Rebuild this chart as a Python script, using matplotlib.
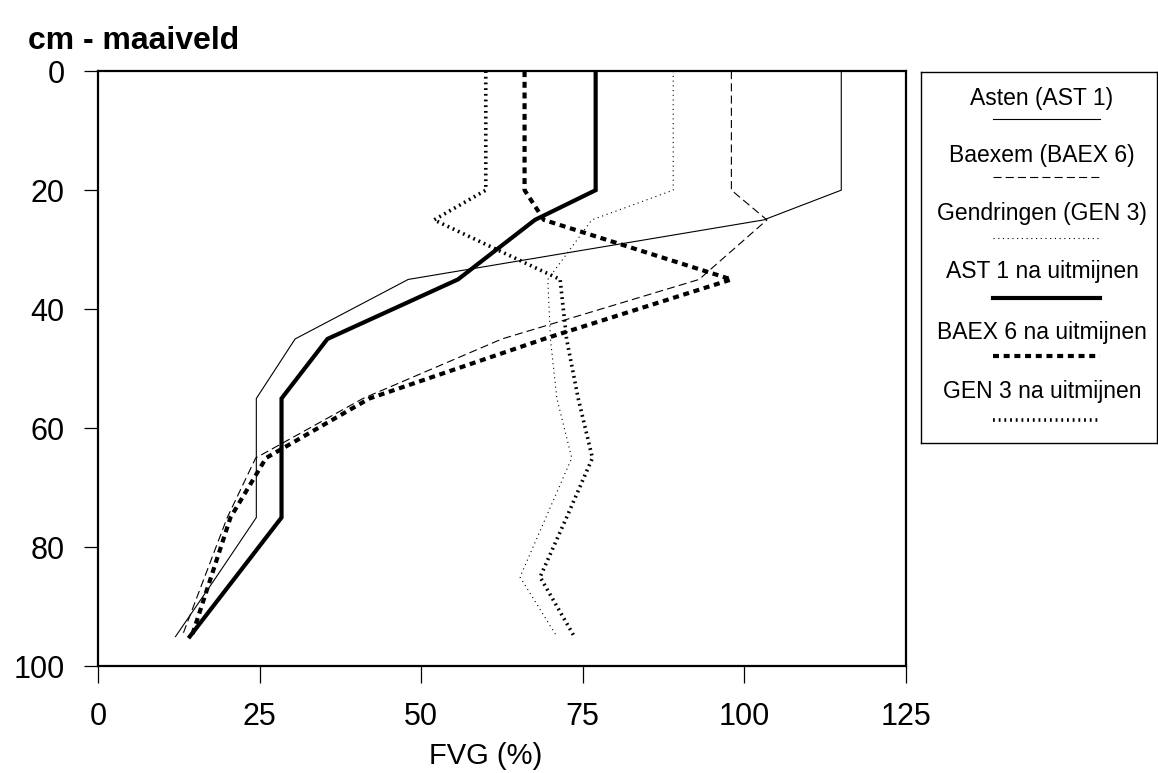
import matplotlib
matplotlib.use('Agg')
import matplotlib.pyplot as plt

"""
Bodemprofiel: FVG (%) per diepte voor drie percelen, voor en na uitmijnen.
"""

plt.rcParams['font.family'] = ['Liberation Sans', 'DejaVu Sans']
plt.rcParams['lines.scale_dashes'] = False

# diepte in cm onder maaiveld
depth = [0, 20, 25, 35, 45, 55, 65, 75, 85, 95]

asten = [115, 115, 103, 48, 30.5, 24.5, 24.5, 24.5, 18.3, 12]
baexem = [98, 98, 103.5, 93, 62.5, 41, 24.4, 20, 16.5, 13]
gendringen = [89, 89, 76.4, 69.6, 70, 71, 73.3, 69.3, 65.3, 71]
ast1_na = [77, 77, 67.6, 55.7, 35.5, 28.4, 28.4, 28.4, 21.3, 14.2]
baex6_na = [66, 66, 69, 98, 69, 42, 26, 20.5, 17.5, 14.5]
gen3_na = [60, 60, 52, 71.5, 72.5, 74.3, 76.5, 72.5, 68.4, 73.7]

series = [asten, baexem, gendringen, ast1_na, baex6_na, gen3_na]
labels = ['Asten (AST 1)', 'Baexem (BAEX 6)', 'Gendringen (GEN 3)',
          'AST 1 na uitmijnen', 'BAEX 6 na uitmijnen', 'GEN 3 na uitmijnen']

styles = [
    dict(lw=0.8, ls='-'),
    dict(lw=0.8, ls=(0, (5.8, 3.0))),
    dict(lw=0.8, ls=(0, (0.8, 2.6))),
    dict(lw=3.0, ls='-'),
    dict(lw=3.0, ls=(0, (4.3, 3.4))),
    dict(lw=2.6, ls=(0, (1.3, 2.8))),
]


def main():
    fig = plt.figure(figsize=(11.58, 7.73), dpi=100)
    ax = fig.add_axes([0.0846, 0.138, 0.6977, 0.770])

    for vals, st in zip(series, styles):
        ax.plot(vals, depth, color='black', solid_joinstyle='miter',
                dash_capstyle='butt', **st)

    ax.set_xlim(0, 125)
    ax.set_ylim(100, 0)
    ax.set_xticks([0, 25, 50, 75, 100, 125])
    ax.set_yticks([0, 20, 40, 60, 80, 100])
    ax.tick_params(axis='x', direction='out', length=12, width=0.9,
                   labelsize=22, pad=14)
    ax.tick_params(axis='y', direction='out', length=10, width=0.9,
                   labelsize=22, pad=14)
    for sp in ax.spines.values():
        sp.set_linewidth(1.6)
    ax.set_xlabel('FVG (%)', fontsize=21, labelpad=7, x=0.48)
    fig.text(0.024, 0.937, 'cm - maaiveld', fontsize=23, fontweight='bold',
             ha='left', va='baseline')

    # legenda als apart kader rechts
    lax = fig.add_axes([921 / 1158, 1 - 443 / 773, 236 / 1158, 371 / 773])
    lax.set_xlim(921, 1157)
    lax.set_ylim(443, 72)
    lax.set_xticks([])
    lax.set_yticks([])
    for sp in lax.spines.values():
        sp.set_linewidth(1.0)
    text_y = [99, 156, 214, 272, 333, 392]
    line_y = [119, 177, 238, 298, 356, 420]
    for lab, st, ty, ly in zip(labels, styles, text_y, line_y):
        lax.text(1042, ty, lab, fontsize=16.5, ha='center', va='center')
        lax.plot([993, 1100], [ly, ly], color='black',
                 dash_capstyle='butt', **st)

    fig.savefig('out.png', dpi=100)


if __name__ == '__main__':
    main()
